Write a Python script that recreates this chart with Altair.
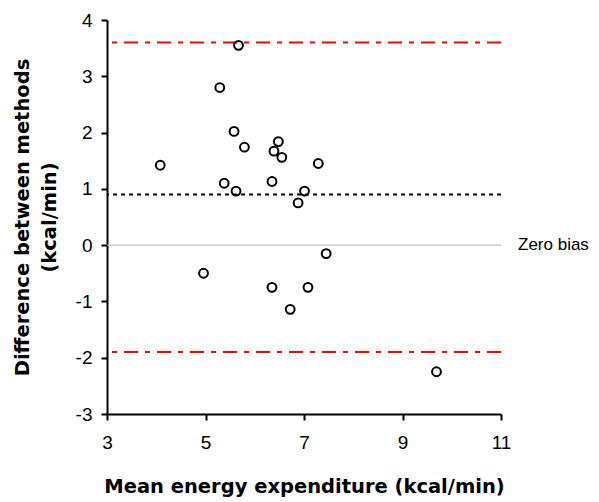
import altair as alt
import pandas as pd

# Bland-Altman data
mean_ee = [4.08, 5.67, 5.29, 5.58, 5.79, 6.48, 6.39, 6.55, 7.29, 5.38,
           5.62, 6.35, 7.01, 6.88, 4.96, 6.35, 7.08, 6.72, 7.45, 9.69]
diff = [1.42, 3.55, 2.80, 2.02, 1.74, 1.84, 1.67, 1.56, 1.45, 1.10,
        0.96, 1.13, 0.96, 0.75, -0.50, -0.75, -0.75, -1.14, -0.15, -2.25]

mean_bias = 0.9
upper_loa = 3.6
lower_loa = -1.9
zero_bias = 0.0

x_ticks = [3, 5, 7, 9, 11]
y_ticks = [-3, -2, -1, 0, 1, 2, 3, 4]

df = pd.DataFrame({"mean": mean_ee, "diff": diff})
loa_df = pd.DataFrame({"v": [upper_loa, lower_loa]})

W, H = 394, 394
TICK_FONT = "Liberation Sans"
TITLE_FONT = "DejaVu Sans"

xscale = alt.Scale(domain=[3, 11], nice=False, zero=False)
yscale = alt.Scale(domain=[-3, 4], nice=False, zero=False)

xaxis = alt.Axis(values=x_ticks, title="Mean energy expenditure (kcal/min)",
                 labelExpr="'' + datum.value",
                 grid=False, domainColor="black", domainWidth=2,
                 tickColor="black", tickWidth=2, tickSize=6,
                 labelFont=TICK_FONT, labelFontSize=19, labelColor="black",
                 labelPadding=13, labelFlush=False,
                 titleFont=TITLE_FONT, titleFontSize=19.5, titleFontWeight="bold",
                 titleColor="black", titleBaseline="alphabetic", titleY=78)
yaxis = alt.Axis(values=y_ticks, title=["Difference between methods", "(kcal/min)"],
                 labelExpr="'' + datum.value",
                 grid=False, domainColor="black", domainWidth=2,
                 tickColor="black", tickWidth=2, tickSize=6,
                 labelFont=TICK_FONT, labelFontSize=19, labelColor="black",
                 labelPadding=9, labelFlush=False,
                 titleFont=TITLE_FONT, titleFontSize=19.5, titleFontWeight="bold",
                 titleColor="black", titleBaseline="alphabetic",
                 titleLineHeight=27, titleX=-79, titleY=H / 2,
                 titleAlign="center", titleAngle=270)

zero_line = alt.Chart(pd.DataFrame({"v": [zero_bias]})).mark_rule(
    color="#c0c0c0", strokeWidth=1.2
).encode(y=alt.Y("v:Q", scale=yscale, axis=yaxis))

zero_text = alt.Chart(pd.DataFrame({"v": [zero_bias], "x": [11], "t": ["Zero bias"]})).mark_text(
    align="left", baseline="middle", dx=17, font=TICK_FONT, fontSize=17, color="black"
).encode(x=alt.X("x:Q", scale=xscale), y=alt.Y("v:Q", scale=yscale), text="t:N")

mean_line = alt.Chart(pd.DataFrame({"v": [mean_bias]})).mark_rule(
    color="black", strokeWidth=2, strokeDash=[4, 4]
).encode(y=alt.Y("v:Q", scale=yscale))

loa_lines = alt.Chart(loa_df).mark_rule(
    color="#ff0000", strokeWidth=2, strokeDash=[14, 7, 5, 7]
).encode(y=alt.Y("v:Q", scale=yscale))

points = alt.Chart(df).mark_point(
    shape="circle", filled=False, color="black", strokeWidth=2, size=78, opacity=1
).encode(
    x=alt.X("mean:Q", scale=xscale, axis=xaxis),
    y=alt.Y("diff:Q", scale=yscale),
)

chart = alt.layer(zero_line, mean_line, loa_lines, points, zero_text).properties(
    width=W, height=H,
    autosize=alt.AutoSizeParams(type="none"),
    padding={"left": 99, "top": 12, "right": 90, "bottom": 86},
    background="white",
).configure_view(stroke=None)

chart.save("out.html", embed_options={"renderer": "svg", "actions": False})
